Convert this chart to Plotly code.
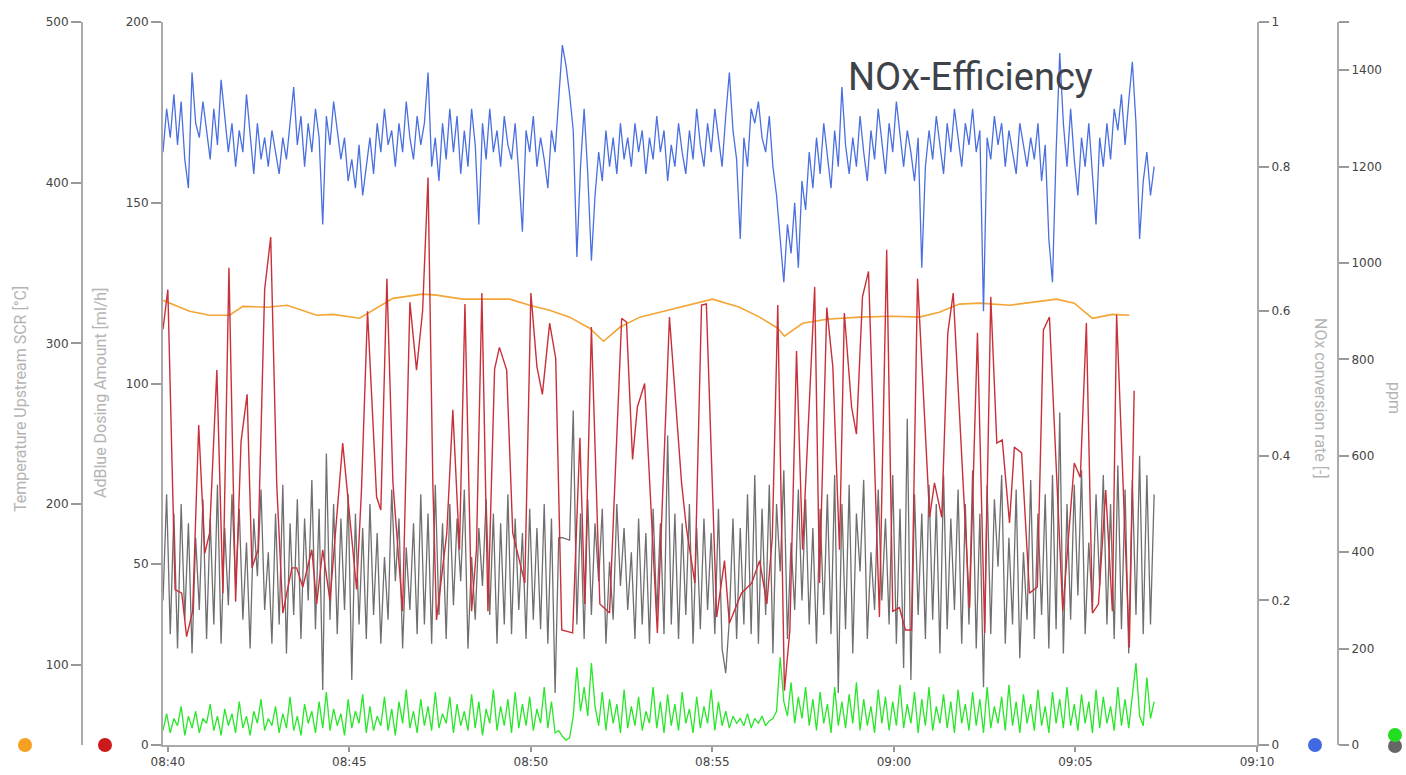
import pandas as pd
import plotly.graph_objects as go

DAY = "2024-01-01 "

# ---------------- data ----------------
# dense series, sampled every 6 s starting 08:39:52
dense_start = "08:39:52"
dense_step_s = 6

nox_rate = [
    0.82, 0.88, 0.84, 0.90, 0.83, 0.89, 0.81, 0.77, 0.93, 0.86,
    0.84, 0.89, 0.85, 0.81, 0.88, 0.83, 0.92, 0.87, 0.82, 0.86,
    0.80, 0.85, 0.82, 0.90, 0.84, 0.79, 0.86, 0.81, 0.84, 0.80,
    0.85, 0.82, 0.79, 0.84, 0.81, 0.86, 0.91, 0.83, 0.87, 0.80,
    0.86, 0.82, 0.88, 0.84, 0.72, 0.87, 0.83, 0.89, 0.85, 0.81,
    0.84, 0.78, 0.81, 0.77, 0.83, 0.76, 0.80, 0.84, 0.79, 0.86,
    0.82, 0.88, 0.83, 0.85, 0.80, 0.86, 0.82, 0.89, 0.84, 0.81,
    0.87, 0.83, 0.86, 0.93, 0.80, 0.84, 0.78, 0.86, 0.81, 0.88,
    0.82, 0.87, 0.79, 0.85, 0.80, 0.88, 0.83, 0.72, 0.86, 0.81,
    0.88, 0.82, 0.85, 0.80, 0.87, 0.83, 0.81, 0.86, 0.79, 0.71,
    0.85, 0.82, 0.87, 0.80, 0.84, 0.81, 0.77, 0.85, 0.82, 0.90,
    0.968, 0.94, 0.90, 0.85, 0.675, 0.80, 0.88, 0.79, 0.67, 0.76,
    0.82, 0.78, 0.85, 0.80, 0.84, 0.79, 0.86, 0.81, 0.84, 0.80,
    0.86, 0.82, 0.85, 0.79, 0.84, 0.81, 0.87, 0.82, 0.85, 0.78,
    0.83, 0.80, 0.86, 0.82, 0.79, 0.85, 0.81, 0.88, 0.83, 0.80,
    0.86, 0.82, 0.88, 0.84, 0.80, 0.87, 0.93, 0.85, 0.81, 0.70,
    0.84, 0.80, 0.88, 0.86, 0.89, 0.84, 0.82, 0.87, 0.80, 0.76,
    0.70, 0.64, 0.72, 0.68, 0.75, 0.66, 0.78, 0.74, 0.82, 0.77,
    0.84, 0.79, 0.86, 0.81, 0.77, 0.85, 0.80, 0.91, 0.83, 0.79,
    0.84, 0.80, 0.87, 0.82, 0.78, 0.85, 0.81, 0.88, 0.83, 0.79,
    0.86, 0.82, 0.89, 0.84, 0.80, 0.85, 0.82, 0.78, 0.84, 0.66,
    0.80, 0.85, 0.81, 0.87, 0.83, 0.79, 0.86, 0.82, 0.88, 0.84,
    0.80, 0.86, 0.83, 0.88, 0.82, 0.85, 0.60, 0.84, 0.81, 0.87,
    0.83, 0.86, 0.80, 0.85, 0.82, 0.79, 0.86, 0.83, 0.80, 0.84,
    0.81, 0.86, 0.78, 0.83, 0.70, 0.64, 0.82, 0.957, 0.86, 0.80,
    0.88, 0.81, 0.76, 0.84, 0.80, 0.86, 0.79, 0.72, 0.84, 0.80,
    0.86, 0.81, 0.88, 0.85, 0.90, 0.83, 0.89, 0.945, 0.86, 0.70,
    0.78, 0.82, 0.76, 0.80,
]

nox_ppm_grey = [
    300, 520, 230, 480, 200, 500, 260, 460, 190, 430,
    280, 510, 220, 470, 250, 540, 210, 450, 290, 520,
    330, 490, 260, 420, 200, 470, 350, 530, 280, 400,
    210, 480, 250, 540, 190, 460, 270, 510, 220, 470,
    300, 550, 240, 490, 114, 605, 260, 500, 230, 470,
    280, 520, 135, 480, 250, 450, 220, 500, 270, 440,
    210, 390, 260, 530, 340, 470, 200, 410, 280, 460,
    230, 520, 250, 480, 210, 540, 270, 460, 220, 500,
    290, 470, 340, 530, 200, 390, 260, 450, 330, 510,
    270, 480, 210, 460, 250, 520, 230, 470, 280, 440,
    220, 490, 260, 450, 240, 500, 210, 470, 108, 430,
    430, 428, 425, 694,
    250, 480, 220, 510, 270, 460,
    340, 490, 210, 380, 260, 500, 330, 450, 280, 400,
    220, 470, 250, 440, 210, 490, 270, 460, 230, 642,
    250, 480, 220, 460, 270, 500, 210, 450, 240, 470,
    280, 440, 230, 490, 200, 149, 260, 470, 220, 450,
    250, 520, 230, 560, 210, 490, 270, 540, 190, 500,
    360, 570, 220, 420, 280, 530, 300, 510, 250, 450,
    210, 490, 270, 520, 230, 560, 108, 500, 240, 540,
    190, 480, 360, 550, 220, 400, 280, 530, 300, 470,
    250, 560, 210, 490, 160, 677, 135, 520, 270, 480,
    220, 540, 260, 500, 190, 560, 240, 470, 280, 530,
    210, 500, 250, 570, 200, 480, 120, 540, 230, 510,
    370, 560, 210, 430, 250, 530, 180, 400, 260, 550,
    220, 480, 270, 520, 200, 560, 240, 690, 190, 500,
    260, 540, 310, 570, 230, 420, 280, 520, 330, 560,
    250, 500, 220, 580, 240, 530, 190, 550, 270, 600,
    230, 560, 250, 520,
]

nox_ppm_green = [
    30, 65, 25, 55, 40, 80, 20, 60, 35, 70,
    25, 55, 45, 85, 30, 60, 20, 75, 40, 65,
    25, 90, 35, 60, 20, 70, 45, 95, 30, 55,
    40, 80, 25, 65, 35, 100, 30, 60, 20, 85,
    45, 70, 25, 90, 35, 110, 30, 75, 40, 65,
    20, 95, 35, 70, 45, 105, 25, 80, 30, 60,
    40, 100, 30, 75, 20, 90, 45, 115, 35, 70,
    25, 95, 40, 80, 30, 110, 35, 65, 45, 100,
    25, 85, 40, 70, 30, 105, 35, 90, 20, 75,
    45, 115, 30, 80, 40, 95, 25, 110, 35, 85,
    40, 100, 30, 75, 45, 120, 35, 90, 25, 30,
    18, 10, 15, 60,
    161, 70, 120, 60, 170, 80,
    40, 110, 30, 95, 45, 85, 25, 115, 35, 80,
    40, 100, 30, 70, 45, 120, 35, 90, 25, 105,
    40, 85, 30, 110, 45, 75, 25, 100, 35, 80,
    45, 115, 30, 90, 40, 70, 35, 60, 45, 55,
    40, 65, 35, 55, 45, 60, 40, 50, 55, 70,
    182, 90, 60, 130, 45, 100, 55, 120, 40, 95,
    30, 110, 45, 85, 25, 120, 40, 90, 35, 105,
    45, 130, 30, 95, 40, 80, 25, 115, 45, 100,
    30, 90, 40, 125, 35, 85, 45, 110, 25, 95,
    40, 120, 30, 80, 45, 105, 35, 90, 25, 115,
    45, 85, 30, 110, 40, 95, 25, 120, 35, 80,
    45, 100, 30, 125, 40, 90, 25, 105, 45, 85,
    30, 115, 40, 80, 25, 110, 45, 95, 35, 120,
    40, 85, 30, 105, 45, 90, 25, 115, 35, 100,
    45, 80, 30, 120, 40, 95, 35, 110, 170, 60,
    40, 140, 55, 90,
]

temp_times = [
    "08:39:52", "08:40:36", "08:41:09", "08:41:42", "08:42:04", "08:42:44",
    "08:43:17", "08:44:06", "08:44:33", "08:45:17", "08:46:12", "08:47:01",
    "08:47:24", "08:48:07", "08:49:25", "08:49:58", "08:50:31", "08:51:04",
    "08:51:37", "08:52:00", "08:52:27", "08:53:00", "08:53:33", "08:54:22",
    "08:55:00", "08:55:45", "08:56:18", "08:56:48", "08:56:59", "08:57:29",
    "08:58:09", "08:59:03", "08:59:58", "09:00:42", "09:01:15", "09:01:48",
    "09:02:21", "09:03:11", "09:04:29", "09:04:58", "09:05:28", "09:06:01",
    "09:06:29",
]
temp_scr = [
    326.8, 320.0, 317.5, 317.5, 323.0, 322.5,
    323.7, 317.5, 318.0, 315.6, 328.0, 330.6,
    330.0, 327.5, 327.5, 323.7, 320.6, 316.3,
    309.4, 301.3, 310.0, 316.3, 319.4, 323.7,
    327.5, 322.5, 316.3, 309.4, 304.4, 312.5,
    315.0, 316.3, 316.9, 316.3, 319.4, 324.4,
    325.0, 323.7, 327.5, 325.0, 315.6, 318.0,
    317.5,
]

adblue_times = [
    "08:39:52", "08:40:00", "08:40:12", "08:40:23", "08:40:31", "08:40:41",
    "08:40:51", "08:41:01", "08:41:09", "08:41:21", "08:41:31", "08:41:41",
    "08:41:52", "08:42:01", "08:42:11", "08:42:19", "08:42:29", "08:42:40",
    "08:42:50", "08:43:00", "08:43:10", "08:43:25", "08:43:33", "08:43:43",
    "08:43:58", "08:44:06", "08:44:16", "08:44:28", "08:44:49", "08:45:01",
    "08:45:12", "08:45:20", "08:45:30", "08:45:45", "08:45:52", "08:46:02",
    "08:46:12", "08:46:28", "08:46:40", "08:46:51", "08:47:01", "08:47:10",
    "08:47:18", "08:47:24", "08:47:41", "08:47:51", "08:48:02", "08:48:11",
    "08:48:22", "08:48:30", "08:48:39", "08:48:49", "08:49:00", "08:49:08",
    "08:49:20", "08:49:30", "08:49:50", "08:50:00", "08:50:10", "08:50:19",
    "08:50:31", "08:50:41", "08:50:51", "08:51:09", "08:51:21", "08:51:29",
    "08:51:40", "08:51:54", "08:52:10", "08:52:30", "08:52:38", "08:52:48",
    "08:52:56", "08:53:08", "08:53:29", "08:53:49", "08:54:09", "08:54:17",
    "08:54:31", "08:54:42", "08:54:50", "08:55:07", "08:55:20", "08:55:28",
    "08:55:48", "08:56:05", "08:56:18", "08:56:30", "08:56:39", "08:56:48",
    "08:56:59", "08:57:08", "08:57:19", "08:57:29", "08:57:49", "08:57:57",
    "08:58:09", "08:58:19", "08:58:30", "08:58:38", "08:58:50", "08:58:58",
    "08:59:08", "08:59:18", "08:59:36", "08:59:48", "08:59:58", "09:00:09",
    "09:00:19", "09:00:29", "09:00:39", "09:00:59", "09:01:07", "09:01:19",
    "09:01:29", "09:01:38", "09:02:05", "09:02:18", "09:02:30", "09:02:40",
    "09:02:50", "09:02:59", "09:03:11", "09:03:19", "09:03:31", "09:03:44",
    "09:03:57", "09:04:07", "09:04:17", "09:04:39", "09:04:58", "09:05:08",
    "09:05:18", "09:05:28", "09:05:38", "09:05:50", "09:06:01", "09:06:08",
    "09:06:29", "09:06:37",
]
adblue_dosing = [
    115, 126, 43, 42, 30, 37,
    88.5, 53, 58.6, 103.7, 42, 132,
    39.6, 84, 97, 49, 54, 126,
    140.5, 72, 36.5, 49, 49, 43.7,
    54, 39, 54, 40, 83.5, 63,
    43, 70.5, 120, 68.6, 65, 129,
    72.5, 37, 122.5, 103.7, 120, 157,
    72, 34.6, 58.6, 92.7, 54, 122,
    37, 54, 125, 37, 104, 110,
    103.7, 58.6, 44.8, 125, 104.6, 97,
    116.7, 107, 31.8, 31, 85, 39,
    115.6, 39, 36.5, 118, 117, 79,
    93.5, 100, 31, 118.4, 72.5, 60,
    44.8, 121.7, 122, 35.4, 51, 33.7,
    42, 44.8, 51, 39, 57.5, 121.7,
    15, 31.8, 109, 54, 126.7, 44.8,
    121, 104.6, 54, 119.5, 93.5, 86,
    124, 131, 35.4, 137, 37, 38,
    31.8, 31.8, 129, 63, 72.5, 63,
    114, 125, 38, 114, 31, 124,
    83.5, 84.4, 61.4, 82.4, 80.8, 42,
    43.7, 114.8, 118.4, 37, 78, 74,
    116.7, 36.5, 39, 70.5, 37, 119,
    27, 98,
]

x_ticks = ["08:40", "08:45", "08:50", "08:55", "09:00", "09:05", "09:10"]
temp_ticks = [100, 200, 300, 400, 500]
adblue_ticks = [0, 50, 100, 150, 200]
rate_ticks = [0, 0.2, 0.4, 0.6, 0.8, 1]
rate_tick_text = ["0", "0.2", "0.4", "0.6", "0.8", "1"]
ppm_ticks = [0, 200, 400, 600, 800, 1000, 1200, 1400, 1500]
ppm_tick_text = ["0", "200", "400", "600", "800", "1000", "1200", "1400", ""]

# ---------------- build ----------------
W, H = 1406, 775
M_T, M_B = 22, 30
PLOT_H = H - M_T - M_B


def px_x(x):
    return x / W


def px_y(y):
    return (H - M_B - y) / PLOT_H


def stamps(times):
    return pd.to_datetime([DAY + t for t in times])


def dense_times(n):
    return pd.date_range(DAY + dense_start, periods=n, freq=f"{dense_step_s}s")


C_ORANGE = "#f3a535"
C_RED = "#c8303a"
C_BLUE = "#4a6fe0"
C_GREY = "#6f6f6f"
C_GREEN = "#28e628"
AX_COL = "#aaaaaa"
TICK_FONT = dict(family="DejaVu Sans", size=12, color="#444444")
TITLE_COL = "#b4b4b4"

fig = go.Figure()
fig.add_trace(go.Scatter(x=dense_times(len(nox_ppm_grey)), y=nox_ppm_grey, yaxis="y",
                         mode="lines", line=dict(color=C_GREY, width=1.3), name="NOx ppm"))
fig.add_trace(go.Scatter(x=dense_times(len(nox_ppm_green)), y=nox_ppm_green, yaxis="y",
                         mode="lines", line=dict(color=C_GREEN, width=1.3), name="NOx ppm 2"))
fig.add_trace(go.Scatter(x=stamps(temp_times), y=temp_scr, yaxis="y2",
                         mode="lines", line=dict(color=C_ORANGE, width=1.6), name="Temperature"))
fig.add_trace(go.Scatter(x=stamps(adblue_times), y=adblue_dosing, yaxis="y3",
                         mode="lines", line=dict(color=C_RED, width=1.4), name="AdBlue"))
fig.add_trace(go.Scatter(x=dense_times(len(nox_rate)), y=nox_rate, yaxis="y4",
                         mode="lines", line=dict(color=C_BLUE, width=1.3), name="NOx rate"))

common_y = dict(showgrid=False, zeroline=False, showline=True, linecolor=AX_COL, linewidth=2,
                ticks="outside", ticklen=10, tickwidth=2, tickcolor="#999999",
                tickfont=TICK_FONT, automargin=False)

fig.update_layout(
    width=W, height=H,
    margin=dict(l=0, r=0, t=M_T, b=M_B),
    paper_bgcolor="white", plot_bgcolor="white",
    showlegend=False,
    xaxis=dict(domain=[px_x(163), px_x(1257)],
               range=[DAY + "08:39:52", DAY + "09:10:00"], type="date",
               tickvals=stamps([t + ":00" for t in x_ticks]), ticktext=x_ticks,
               ticks="outside", ticklen=5, tickwidth=2, tickcolor="#999999",
               showline=True, linecolor=AX_COL, linewidth=2, showgrid=False, zeroline=False,
               tickfont=TICK_FONT, automargin=False),
    yaxis=dict(range=[0, 1500], tickvals=ppm_ticks, ticktext=ppm_tick_text,
               side="right", anchor="free", position=px_x(1338), **common_y),
    yaxis2=dict(range=[50, 500], tickvals=temp_ticks, overlaying="y",
                side="left", anchor="free", position=px_x(82), **common_y),
    yaxis3=dict(range=[0, 200], tickvals=adblue_ticks, overlaying="y",
                side="left", anchor="x", **common_y),
    yaxis4=dict(range=[0, 1], tickvals=rate_ticks, ticktext=rate_tick_text, overlaying="y",
                side="right", anchor="x", **common_y),
)

title_font = dict(family="Roboto", size=16, color=TITLE_COL)
annotations = [
    dict(text="Temperature Upstream SCR [°C]", x=px_x(21), y=px_y(399), textangle=-90),
    dict(text="AdBlue Dosing Amount [ml/h]", x=px_x(101), y=px_y(393), textangle=-90),
    dict(text="NOx conversion rate [-]", x=px_x(1320), y=px_y(398), textangle=90),
    dict(text="ppm", x=px_x(1394), y=px_y(398), textangle=90),
]
for a in annotations:
    fig.add_annotation(xref="paper", yref="paper", showarrow=False,
                       xanchor="center", yanchor="middle", font=title_font, **a)

fig.add_annotation(text="NOx-Efficiency", xref="paper", yref="paper",
                   x=px_x(970), y=px_y(77), xanchor="center", yanchor="middle",
                   showarrow=False, font=dict(family="Roboto", size=38, color="#3d4349"))

# axis colour markers
R = 7
for cx, cy, col in [(25, 745, "#f5a020"), (105, 745, "#cc1a1a"), (1315, 745, "#4169e1"),
                    (1395, 746, "#666666"), (1395, 735, "#22dd22")]:
    fig.add_shape(type="circle", xref="paper", yref="paper",
                  x0=px_x(cx - R), x1=px_x(cx + R), y0=px_y(cy + R), y1=px_y(cy - R),
                  fillcolor=col, line=dict(width=0))

fig.write_html("out.html",
               config={"displayModeBar": False},
               post_script="document.body.style.margin='0';document.body.style.overflow='hidden';")
